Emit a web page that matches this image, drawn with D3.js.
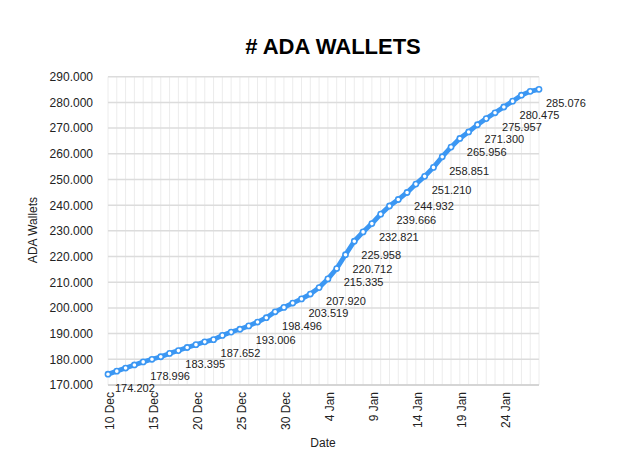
<!DOCTYPE html>
<html><head><meta charset="utf-8">
<script src="https://cdn.jsdelivr.net/npm/d3@7"></script>
<style>
html,body{margin:0;padding:0;background:#fff;}
text{font-family:"Liberation Sans",Arial,Helvetica,sans-serif;}
</style></head>
<body><svg id="c" width="624" height="461"></svg>
<script>
// ---- data ----
const startDate = "2020-12-10";
const wallets = [174202,175400,176600,177800,178996,180000,181000,182300,183395,184600,
  185700,186800,187652,189300,190600,191700,193006,194500,196200,198496,
  200200,201900,203519,205400,207920,211300,215335,220712,225958,229600,
  232821,236500,239666,242200,244932,248200,251210,254700,258851,262600,
  265956,268500,271300,273700,275957,278200,280475,282800,284300,285076];
const labelledIdx = [0,4,8,12,16,19,22,24,26,27,28,30,32,34,36,38,40,42,44,46,49];
const xTickLabels = ["10 Dec","15 Dec","20 Dec","25 Dec","30 Dec","4 Jan","9 Jan","14 Jan","19 Jan","24 Jan"];
const yTicks = [170000,180000,190000,200000,210000,220000,230000,240000,250000,260000,270000,280000,290000];
const title = "# ADA WALLETS", xTitle = "Date", yTitle = "ADA Wallets";

// ---- chart ----
const svg = d3.select("#c");
const parse = d3.utcParse("%Y-%m-%d");
const t0 = parse(startDate);
const dates = wallets.map((_, i) => d3.utcDay.offset(t0, i));
const endDate = d3.utcDay.offset(t0, wallets.length - 1);
const loc = d3.formatLocale({decimal: ",", thousands: ".", grouping: [3], currency: ["", ""]});
const fmt = loc.format(",.0f");

const L = 108, R = 539, T = 76.7, B = 385;
const x = d3.scaleUtc().domain([t0, endDate]).range([L, R]);
const y = d3.scaleLinear().domain([170000, 290000]).range([B, T]);

// vertical gridlines (daily)
svg.append("g").selectAll("line").data(dates).join("line")
  .attr("x1", d => x(d)).attr("x2", d => x(d)).attr("y1", T).attr("y2", B)
  .attr("stroke", "#ececec").attr("stroke-width", 1);
// horizontal gridlines
svg.append("g").selectAll("line").data(yTicks).join("line")
  .attr("x1", L).attr("x2", R).attr("y1", d => y(d)).attr("y2", d => y(d))
  .attr("stroke", "#dcdcdc").attr("stroke-width", 1.5);
// bottom axis line
svg.append("line").attr("x1", L).attr("x2", R).attr("y1", B).attr("y2", B)
  .attr("stroke", "#cfcfcf").attr("stroke-width", 1.5);

// y tick labels
const yAxis = d3.axisLeft(y).tickValues(yTicks).tickSize(0).tickPadding(15).tickFormat(fmt);
const gy = svg.append("g").attr("transform", `translate(${L},0)`).call(yAxis);
gy.select(".domain").remove();
gy.selectAll("text").attr("font-size", 12).attr("fill", "#222")
  .style("font-family", '"Liberation Sans",Arial,sans-serif');

// x tick labels
const tickDates = xTickLabels.map((_, i) => d3.utcDay.offset(t0, i * 5));
const xAxis = d3.axisBottom(x).tickValues(tickDates).tickSize(0)
  .tickFormat((d, i) => xTickLabels[i]);
const gx = svg.append("g").attr("transform", `translate(0,${B})`).call(xAxis);
gx.select(".domain").remove();
gx.selectAll("text").attr("font-size", 12).attr("fill", "#222")
  .style("font-family", '"Liberation Sans",Arial,sans-serif')
  .attr("text-anchor", "end").attr("transform", "rotate(-90)")
  .attr("x", -7).attr("y", 1).attr("dy", "0.35em");

// line
const line = d3.line().x((d, i) => x(dates[i])).y(d => y(d));
svg.append("path").datum(wallets).attr("d", line)
  .attr("fill", "none").attr("stroke", "#3b97f3").attr("stroke-width", 4.8)
  .attr("stroke-linejoin", "round");
svg.append("g").selectAll("circle").data(wallets).join("circle")
  .attr("cx", (d, i) => x(dates[i])).attr("cy", d => y(d)).attr("r", 2.6)
  .attr("fill", "#fff").attr("stroke", "#3b97f3").attr("stroke-width", 1.6);

// data labels
svg.append("g").selectAll("text").data(labelledIdx).join("text")
  .attr("x", i => x(dates[i]) + 7).attr("y", i => y(wallets[i]) + 14)
  .attr("dy", "0.35em").attr("font-size", 11).attr("fill", "#222")
  .text(i => fmt(wallets[i]));

// titles
svg.append("text").attr("x", 333).attr("y", 54).attr("text-anchor", "middle")
  .attr("font-size", 22).attr("font-weight", "bold").attr("fill", "#000").text(title);
svg.append("text").attr("x", 323).attr("y", 447).attr("text-anchor", "middle")
  .attr("font-size", 12).attr("fill", "#222").text(xTitle);
svg.append("text").attr("transform", "translate(37,230) rotate(-90)").attr("text-anchor", "middle")
  .attr("font-size", 12).attr("fill", "#222").text(yTitle);
</script></body></html>
